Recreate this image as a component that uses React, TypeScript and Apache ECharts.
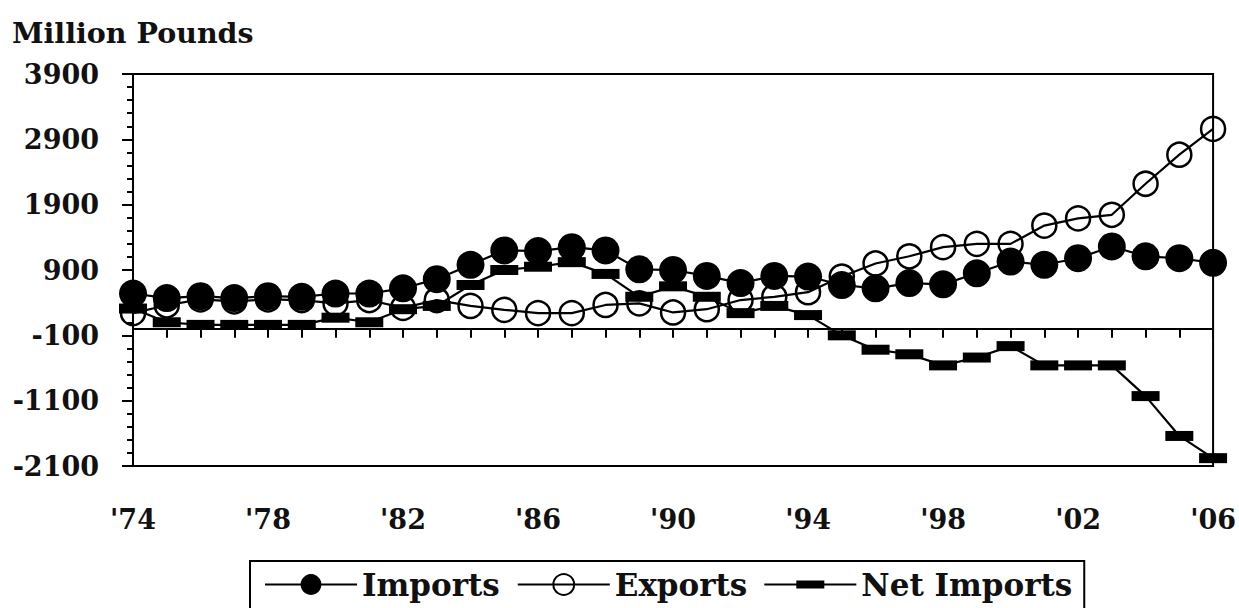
import React, { useEffect, useRef } from "react";
import * as echarts from "echarts";

const categories = [
  "'74", "'75", "'76", "'77", "'78", "'79", "'80", "'81", "'82", "'83", "'84",
  "'85", "'86", "'87", "'88", "'89", "'90", "'91", "'92", "'93", "'94", "'95",
  "'96", "'97", "'98", "'99", "'00", "'01", "'02", "'03", "'04", "'05", "'06",
];

const importsData = [
  540, 470, 500, 470, 500, 490, 540, 540, 620, 760, 980,
  1200, 1190, 1250, 1200, 910, 900, 810, 700, 810, 800, 670,
  620, 700, 680, 850, 1030, 980, 1080, 1260, 1110, 1080, 1010,
];

const exportsData = [
  240, 360, 450, 420, 450, 440, 390, 440, 320, 440, 350,
  290, 240, 240, 365, 390, 250, 300, 440, 490, 560, 800,
  1000, 1110, 1250, 1300, 1300, 1580, 1690, 1745, 2220, 2665, 3060,
];

const netImportsData = [
  310, 100, 60, 60, 60, 60, 170, 100, 300, 350, 670,
  900, 950, 1020, 840, 490, 650, 490, 240, 350, 210, -100,
  -320, -390, -560, -440, -265, -560, -560, -560, -1030, -1640, -1980,
];

const yMin = -2100;
const yMax = 3900;
const yInterval = 1000;
const unitTitle = "Million Pounds";
const seriesNames = ["Imports", "Exports", "Net Imports"];

const FONT = '"DejaVu Serif", "Liberation Serif", serif';
const INK = "#111";

export default function App() {
  const ref = useRef<HTMLDivElement>(null);

  useEffect(() => {
    if (!ref.current) return;
    const chart = echarts.init(ref.current, null, { renderer: "svg" });
    const axisLine = { color: "#000", width: 2 };
    chart.setOption({
      animation: false,
      backgroundColor: "#ffffff",
      title: {
        text: unitTitle,
        left: 12,
        top: 18,
        padding: 0,
        textStyle: { fontFamily: FONT, fontWeight: "bold", fontSize: 28.5, color: INK },
      },
      grid: {
        left: 133,
        right: 25,
        top: 74,
        bottom: 142,
        show: true,
        borderColor: "#000",
        borderWidth: 2,
        backgroundColor: "transparent",
      },
      legend: {
        left: 250,
        top: 561,
        padding: [8, 12, 20, 14],
        borderColor: "#000",
        borderWidth: 2,
        itemWidth: 92,
        itemHeight: 26,
        itemGap: 17,
        selectedMode: false,
        textStyle: { fontFamily: FONT, fontWeight: "bold", fontSize: 31, color: INK },
        data: [
          { name: seriesNames[0] },
          { name: seriesNames[1] },
          { name: seriesNames[2], icon: "path://M0,3H92V5H0Z M32,0H60V8H32Z" },
        ],
      },
      xAxis: [
        {
          type: "category",
          data: categories,
          boundaryGap: false,
          axisLine: { show: true, onZero: true, lineStyle: axisLine },
          axisTick: { show: true, inside: false, length: 9, interval: 0, lineStyle: axisLine },
          axisLabel: { show: false },
          splitLine: { show: false },
        },
        {
          type: "category",
          data: categories,
          boundaryGap: false,
          position: "bottom",
          axisLine: { show: true, onZero: false, lineStyle: axisLine },
          axisTick: { show: false },
          splitLine: { show: false },
          axisLabel: {
            interval: 3,
            margin: 40,
            fontFamily: FONT,
            fontWeight: "bold",
            fontSize: 27,
            color: INK,
          },
        },
      ],
      yAxis: {
        type: "value",
        min: yMin,
        max: yMax,
        interval: yInterval,
        axisLine: { show: true, lineStyle: axisLine },
        axisTick: { show: true, inside: false, length: 11, lineStyle: axisLine },
        minorTick: { show: true, splitNumber: 5, length: 6, lineStyle: { color: "#000", width: 2 } },
        splitLine: { show: false },
        axisLabel: {
          margin: 34,
          fontFamily: FONT,
          fontWeight: "bold",
          fontSize: 27,
          color: INK,
          formatter: (v: number) => String(v),
        },
      },
      series: [
        {
          name: seriesNames[0],
          type: "line",
          data: importsData,
          clip: false,
          showSymbol: true,
          showAllSymbol: true,
          symbol: "circle",
          symbolSize: 28,
          itemStyle: { color: "#000" },
          lineStyle: { color: "#000", width: 2.2 },
          emphasis: { disabled: true },
          z: 3,
        },
        {
          name: seriesNames[1],
          type: "line",
          data: exportsData,
          clip: false,
          showSymbol: true,
          showAllSymbol: true,
          symbol: "circle",
          symbolSize: 24,
          itemStyle: { color: "rgba(255,255,255,0)", borderColor: "#000", borderWidth: 2.5 },
          lineStyle: { color: "#000", width: 2.2 },
          emphasis: { disabled: true },
          z: 2,
        },
        {
          name: seriesNames[2],
          type: "line",
          data: netImportsData,
          clip: false,
          showSymbol: true,
          showAllSymbol: true,
          symbol: "rect",
          symbolSize: [28, 10],
          itemStyle: { color: "#000" },
          lineStyle: { color: "#000", width: 2.2 },
          emphasis: { disabled: true },
          z: 4,
        },
      ],
    });
    return () => chart.dispose();
  }, []);

  return (
    <div
      ref={ref}
      style={{ position: "absolute", left: 0, top: 0, width: 1239, height: 608 }}
    />
  );
}
